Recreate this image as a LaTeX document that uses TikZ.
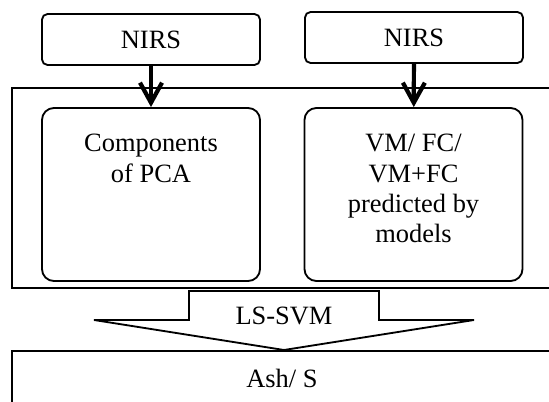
\documentclass[tikz,border=0pt]{standalone}
\usepackage{fontspec}
\setmainfont{Liberation Serif}
\usetikzlibrary{arrows.meta,positioning}
\tikzset{source/.style={draw, rounded corners=0.14cm, line width=1.3pt,
                        minimum width=5.45cm, minimum height=1.275cm, inner sep=0pt},
        result/.style={draw, rounded corners=0.3cm, line width=1.3pt,
                        minimum width=5.45cm, minimum height=4.325cm},
        panelbox/.style={draw, line width=1.3pt, inner sep=0pt},
        feed/.style={line width=3pt, -{Straight Barb[length=0.5cm,width=0.55cm]}},
        txt/.style={inner sep=0pt, align=center},
        }

\begin{document}
\begin{tikzpicture}[x=0.025cm, y=-0.025cm, font=\fontsize{18.8}{21.5}\selectfont]
    \useasboundingbox (0,0) rectangle (549,402);

    \node[source] (nirsA) at (151,39.5) {NIRS};
    \node[source] (nirsB) at (414,37.5) {NIRS};

    \node[panelbox, minimum width=13.7cm, minimum height=5cm] (panel) at (286,188) {};

    \node[result] (compA) at (151,194.5) {};
    \node[result] (compB) at (413.5,194.5) {};
    \node[txt, anchor=north] (compAtxt) at (151,134) {Components\\of PCA};
    \node[txt, anchor=north] (compBtxt) at (413.5,134) {VM/ FC/\\VM+FC\\predicted by\\models};

    \draw[feed] (nirsA) -- (compA);
    \draw[feed] (nirsB) -- (compB);

    \draw[line width=1.3pt] (189,291) -- (379,291) -- (379,320) -- (474,320)
        -- (284,350) -- (94,320) -- (189,320) -- cycle;
    \node[txt, anchor=base] (svm) at (284,324) {LS-SVM};

    \node[panelbox, minimum width=13.7cm, minimum height=1.725cm] (ashBox) at (286,385.5) {};
    \node[txt, anchor=base] (ash) at (282,387) {Ash/ S};

\end{tikzpicture}
\end{document}
